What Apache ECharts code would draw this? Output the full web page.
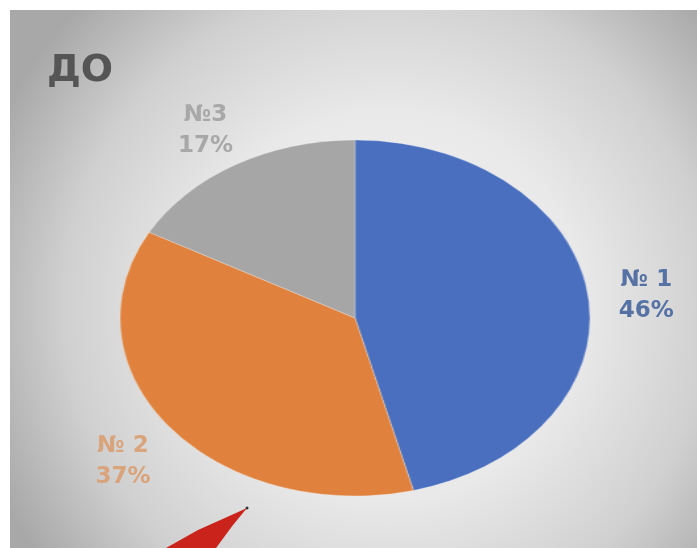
<!DOCTYPE html>
<html>
<head>
<meta charset="utf-8">
<script src="https://cdn.jsdelivr.net/npm/echarts@6/dist/echarts.min.js"></script>
<style>
  html, body { margin: 0; padding: 0; background: #fff; }
  #wrap { position: relative; width: 697px; height: 548px; overflow: hidden; }
  #bg { position: absolute; left: 0; top: 0; width: 697px; height: 548px; }
  #pie { position: absolute; left: 155px; top: 118px; width: 400px; height: 400px;
         transform: scaleX(1.32); transform-origin: 50% 50%; }
</style>
</head>
<body>
<div id="wrap">
  <div id="bg"></div>
  <div id="pie"></div>
</div>
<script>
// data
var categories = ['№ 1', '№ 2', '№3'];
var values = [46, 37, 17];
var sliceColors = ['#4a6fbe', '#e0823d', '#a6a6a6'];
var labelColors = ['#5671a3', '#d9a37c', '#a8a8a8'];

// ellipse geometry (pie div is stretched horizontally)
var cx = 355, cy = 318, ry = 178, rx = ry * 1.32;

function chart() {
    var bgChart = echarts.init(document.getElementById('bg'));
    var pieChart = echarts.init(document.getElementById('pie'));

    var total = values.reduce(function (a, b) { return a + b; }, 0);
    var labels = [];
    var cum = 0;
    for (var i = 0; i < values.length; i++) {
        var mid = (cum + values[i] / 2) / total * Math.PI * 2;
        cum += values[i];
        labels.push({
            type: 'text',
            z: 10,
            style: {
                text: categories[i] + '\n' + Math.round(values[i] / total * 100) + '%',
                x: cx + rx * Math.sin(mid) * 1.25,
                y: cy - ry * Math.cos(mid) * 1.26 + 6,
                textAlign: 'center',
                verticalAlign: 'middle',
                fill: labelColors[i],
                font: 'bold 23px "DejaVu Sans"',
                lineHeight: 31
            }
        });
    }

    var bgOption = {
        backgroundColor: '#fff',
        animation: false,
        title: {
            text: 'ДО',
            left: 42,
            top: 47,
            textStyle: {
                color: '#555',
                fontSize: 38,
                fontWeight: 'bold',
                fontFamily: 'DejaVu Sans'
            }
        },
        graphic: [
            {
                type: 'rect',
                z: 0,
                shape: { x: 10, y: 10, width: 687, height: 538 },
                style: {
                    fill: {
                        type: 'radial', x: 0.55, y: 0.55, r: 0.8,
                        colorStops: [
                            { offset: 0, color: '#f4f4f4' },
                            { offset: 0.45, color: '#e9e9e9' },
                            { offset: 0.75, color: '#d0d0d0' },
                            { offset: 1, color: '#a8a8a8' }
                        ]
                    }
                }
            },
            {
                type: 'polygon',
                z: 5,
                shape: { points: [[247, 508], [236, 513], [198, 530], [166, 548], [216, 548], [233, 525]] },
                style: { fill: '#c9231b' }
            },
            {
                type: 'circle',
                z: 6,
                shape: { cx: 247, cy: 508, r: 1.5 },
                style: { fill: '#333' }
            }
        ].concat(labels)
    };

    var pieOption = {
        backgroundColor: 'transparent',
        animation: false,
        series: [{
            type: 'pie',
            silent: true,
            radius: ry,
            center: ['50%', '50%'],
            startAngle: 90,
            clockwise: true,
            label: { show: false },
            labelLine: { show: false },
            itemStyle: {
                borderColor: 'rgba(255,255,255,0.25)',
                borderWidth: 1
            },
            data: values.map(function (v, i) {
                return { value: v, name: categories[i], itemStyle: { color: sliceColors[i] } };
            })
        }]
    };

    bgChart.setOption(bgOption);
    pieChart.setOption(pieOption);
}
chart();
</script>
</body>
</html>
